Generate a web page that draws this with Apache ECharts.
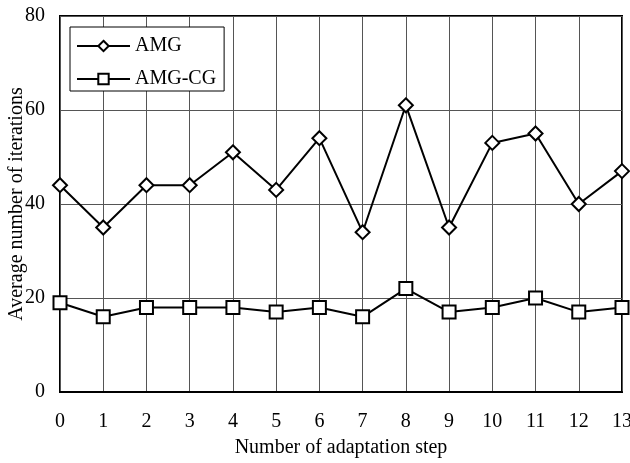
<!DOCTYPE html>
<html>
<head>
<meta charset="utf-8">
<script src="https://cdn.jsdelivr.net/npm/echarts@6/dist/echarts.min.js"></script>
<style>
  html, body { margin: 0; padding: 0; background: #fff; }
  #chart { width: 630px; height: 463px; }
</style>
</head>
<body>
<div id="chart"></div>
<script>
// data
var steps = ["0", "1", "2", "3", "4", "5", "6", "7", "8", "9", "10", "11", "12", "13"];
var amg = [44, 35, 44, 44, 51, 43, 54, 34, 61, 35, 53, 55, 40, 47];
var amgCg = [19, 16, 18, 18, 18, 17, 18, 16, 22, 17, 18, 20, 17, 18];
var yTicks = [0, 20, 40, 60, 80];

var font = "Liberation Serif";
var fs = 20;

var chart = echarts.init(document.getElementById("chart"));
chart.setOption({
  animation: false,
  textStyle: { fontFamily: font, color: "#000" },
  grid: {
    left: 60,
    right: 8,
    top: 16,
    bottom: 71,
    outerBoundsMode: "none",
    containLabel: false,
    show: true,
    borderColor: "#000",
    borderWidth: 2
  },
  legend: {
    orient: "vertical",
    left: 70,
    top: 27,
    backgroundColor: "#fff",
    borderColor: "#000",
    borderWidth: 1,
    padding: [9, 8, 2, 6],
    itemGap: 13,
    itemWidth: 53,
    itemHeight: 13,
    textStyle: { fontFamily: font, fontSize: fs, color: "#000" },
    data: ["AMG", "AMG-CG"]
  },
  xAxis: {
    type: "category",
    data: steps,
    boundaryGap: false,
    name: "Number of adaptation step",
    nameLocation: "middle",
    nameGap: 46,
    nameMoveOverlap: false,
    nameTextStyle: { fontFamily: font, fontSize: fs, color: "#000" },
    axisLine: { lineStyle: { color: "#000", width: 2 } },
    axisTick: { show: false },
    axisLabel: { fontFamily: font, fontSize: fs, color: "#000", margin: 20 },
    splitLine: { show: true, lineStyle: { color: "#555", width: 1 } }
  },
  yAxis: {
    type: "value",
    min: yTicks[0],
    max: yTicks[yTicks.length - 1],
    interval: 20,
    name: "Average number of iterations",
    nameLocation: "middle",
    nameGap: 33,
    nameMoveOverlap: false,
    nameTextStyle: { fontFamily: font, fontSize: fs, color: "#000" },
    axisLine: { lineStyle: { color: "#000", width: 2 } },
    axisTick: { show: false },
    axisLabel: { fontFamily: font, fontSize: fs, color: "#000", margin: 15 },
    splitLine: { show: true, lineStyle: { color: "#555", width: 1 } }
  },
  series: [
    {
      name: "AMG",
      type: "line",
      data: amg,
      symbol: "diamond",
      symbolSize: 14,
      lineStyle: { color: "#000", width: 2 },
      itemStyle: { color: "#fff", borderColor: "#000", borderWidth: 2 },
      z: 3
    },
    {
      name: "AMG-CG",
      type: "line",
      data: amgCg,
      symbol: "rect",
      symbolSize: 13,
      lineStyle: { color: "#000", width: 2 },
      itemStyle: { color: "#fff", borderColor: "#000", borderWidth: 2 },
      z: 3
    }
  ]
});
</script>
</body>
</html>
